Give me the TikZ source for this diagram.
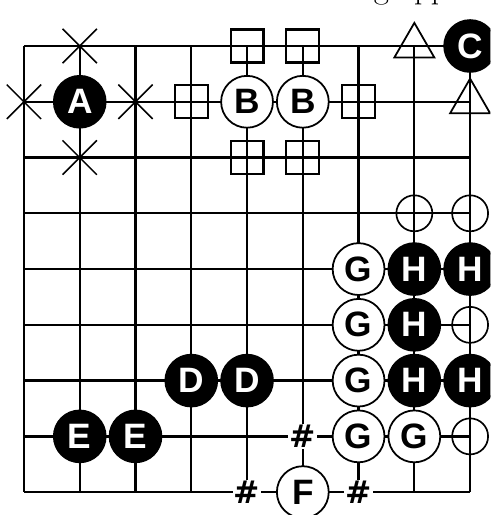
\documentclass[tikz,border=0pt]{standalone}
\usepackage{fontspec}
\newfontfamily\gofont{Liberation Sans}
\newfontfamily\hashfont{DejaVu Sans}
\usepackage{tikz}
\usetikzlibrary{shapes.geometric,shapes.misc,positioning}
\tikzset{
  grd/.style ={line width=1.15pt},
  bst/.style ={circle,draw=black,fill=black,line width=0.9pt,
               minimum size=0.93cm,inner sep=0pt,text=white,
               font=\gofont\bfseries\fontsize{18}{18}\selectfont},
  wst/.style ={bst,fill=white,text=black},
  sqm/.style ={rectangle,draw,line width=1.1pt,
               minimum size=0.59cm,inner sep=0pt},
  trm/.style ={regular polygon,regular polygon sides=3,draw,
               line width=0.9pt,minimum size=0.83cm,inner sep=0pt},
  crm/.style ={circle,draw,line width=0.85pt,
               minimum size=0.645cm,inner sep=0pt},
  xm/.style  ={cross out,draw,line width=0.75pt,
               minimum size=0.59cm,inner sep=0pt},
  hsh/.style ={fill=white,inner sep=0.6pt,
               font=\hashfont\bfseries\fontsize{16}{16}\selectfont},
}

\begin{document}
\begin{tikzpicture}[x=1cm,y=-1cm]
  \useasboundingbox (-0.43,-0.825) rectangle (8.362,8.41);
  \clip (-0.43,-0.825) rectangle (8.362,8.41);
  % text line cut off above the board
  \node[anchor=base west,inner sep=0pt,font=\fontsize{16.8}{20}\selectfont]
        (frag) at (6.267,-0.85) {g app};
  % board
  \foreach \i in {0,...,8} {
    \draw[grd] (\i,0) -- (\i,8);
    \draw[grd] (0,\i) -- (8,\i);
  }
  % crosses round A
  \node[xm] (x1) at (1,0) {};
  \node[xm] (x2) at (0,1) {};
  \node[xm] (x3) at (2,1) {};
  \node[xm] (x4) at (1,2) {};
  % squares round B
  \node[sqm] (s1) at (4,0) {};
  \node[sqm] (s2) at (5,0) {};
  \node[sqm] (s3) at (3,1) {};
  \node[sqm] (s4) at (6,1) {};
  \node[sqm] (s5) at (4,2) {};
  \node[sqm] (s6) at (5,2) {};
  % triangles next to C
  \node[trm] (t1) at (7,0) {};
  \node[trm] (t2) at (8,1) {};
  % circles next to H
  \node[crm] (o1) at (7,3) {};
  \node[crm] (o2) at (8,3) {};
  \node[crm] (o3) at (8,5) {};
  \node[crm] (o4) at (8,7) {};
  % hash marks round F
  \node[hsh] (h1) at (5,7) {\#};
  \node[hsh] (h2) at (4,8) {\#};
  \node[hsh] (h3) at (6,8) {\#};
  % black stones
  \node[bst] (a)  at (1,1) {A};
  \node[bst] (c)  at (8,0) {C};
  \node[bst] (d1) at (3,6) {D};
  \node[bst] (d2) at (4,6) {D};
  \node[bst] (e1) at (1,7) {E};
  \node[bst] (e2) at (2,7) {E};
  \node[bst] (hh1) at (7,4) {H};
  \node[bst] (hh2) at (8,4) {H};
  \node[bst] (hh3) at (7,5) {H};
  \node[bst] (hh4) at (7,6) {H};
  \node[bst] (hh5) at (8,6) {H};
  % white stones
  \node[wst] (b1) at (4,1) {B};
  \node[wst] (b2) at (5,1) {B};
  \node[wst] (f)  at (5,8) {F};
  \node[wst] (g1) at (6,4) {G};
  \node[wst] (g2) at (6,5) {G};
  \node[wst] (g3) at (6,6) {G};
  \node[wst] (g4) at (6,7) {G};
  \node[wst] (g5) at (7,7) {G};
\end{tikzpicture}
\end{document}
